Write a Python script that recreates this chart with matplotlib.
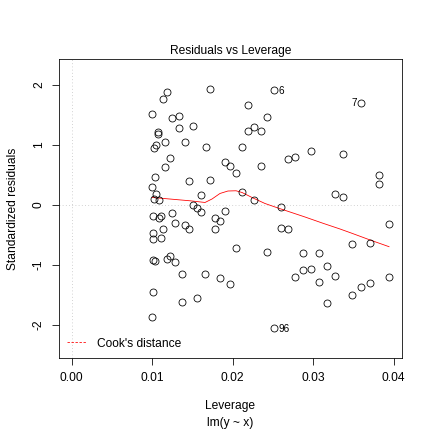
import numpy as np
import matplotlib
matplotlib.use("Agg")
import matplotlib.pyplot as plt

# leverage (hat values) and standardized residuals
leverage = [
    0.01001, 0.01130, 0.01188, 0.01068, 0.01068, 0.01047, 0.01022, 0.01159, 0.01217, 0.01155,
    0.01035, 0.01001, 0.01047, 0.01016, 0.01084, 0.01014, 0.01109, 0.01081, 0.01250, 0.01287,
    0.01407, 0.01457, 0.01134, 0.01006, 0.01006, 0.01106, 0.01006, 0.01039, 0.01184, 0.01225,
    0.01287, 0.01366, 0.01014, 0.01366, 0.01553, 0.01001, 0.01250, 0.01329, 0.01329, 0.01503,
    0.01411, 0.01665, 0.01718, 0.02190, 0.02426, 0.02190, 0.02268, 0.02348, 0.02116, 0.01908,
    0.01970, 0.02045, 0.02348, 0.02687, 0.02778, 0.01453, 0.01718, 0.01606, 0.02116, 0.02265,
    0.01503, 0.01553, 0.01606, 0.02596, 0.01908, 0.01780, 0.01839, 0.01776, 0.02596, 0.02683,
    0.02045, 0.02426, 0.01660, 0.01839, 0.01970, 0.02513, 0.02513, 0.03594, 0.02969, 0.03374,
    0.03821, 0.03821, 0.03271, 0.03374, 0.03942, 0.03482, 0.03706, 0.02873, 0.03068, 0.02778,
    0.02873, 0.02969, 0.03168, 0.03267, 0.03068, 0.03168, 0.03482, 0.03594, 0.03706, 0.03942,
]
std_resid = [
    1.517, 1.767, 1.873, 1.207, 1.178, 1.000, 0.950, 1.050, 0.773, 0.623,
    0.462, 0.300, 0.173, 0.087, 0.078, -0.183, -0.183, -0.217, -0.143, -0.310,
    -0.343, -0.410, -0.405, -0.472, -0.567, -0.560, -0.922, -0.933, -0.905, -0.850,
    -0.950, -1.155, -1.450, -1.617, -1.550, -1.872, 1.445, 1.483, 1.283, 1.317,
    1.050, 0.962, 1.928, 1.667, 1.462, 1.233, 1.300, 1.233, 0.962, 0.707,
    0.645, 0.523, 0.645, 0.767, 0.790, 0.390, 0.412, 0.167, 0.217, 0.070,
    -0.005, -0.060, -0.130, -0.033, -0.110, -0.230, -0.272, -0.410, -0.393, -0.410,
    -0.717, -0.793, -1.150, -1.222, -1.327, -2.055, 1.907, 1.695, 0.903, 0.850,
    0.495, 0.350, 0.178, 0.123, -0.327, -0.660, -0.633, -0.800, -0.810, -1.205,
    -1.093, -1.077, -1.022, -1.183, -1.293, -1.633, -1.500, -1.372, -1.305, -1.205,
]

# smoother (red line)
smooth_x = [0.01001, 0.01258, 0.01470, 0.01656, 0.01743, 0.01842, 0.01941, 0.02041, 0.02116, 0.02252,
            0.02401, 0.02525, 0.02712, 0.02898, 0.03122, 0.03333, 0.03482, 0.03706, 0.03942]
smooth_y = [0.120, 0.090, 0.065, 0.037, 0.095, 0.187, 0.228, 0.232, 0.203, 0.112,
            0.020, -0.038, -0.122, -0.205, -0.310, -0.405, -0.477, -0.588, -0.700]

# labelled observations
id_labels = ["6", "7", "96"]
id_x = [0.02513, 0.03594, 0.02513]
id_y = [1.907, 1.695, -2.055]

plt.rcParams['font.family'] = ['Liberation Sans', 'DejaVu Sans']
plt.rcParams['font.size'] = 12

fig = plt.figure(figsize=(6, 6), dpi=72)
ax = fig.add_axes([59/432, 1 - 358/432, (402 - 59)/432, (358 - 59)/432])

ax.axvline(0, color='#bebebe', ls=(0, (1, 3)), lw=0.8, zorder=1)
ax.axhline(0, color='#bebebe', ls=(0, (1, 3)), lw=0.8, zorder=1)

ax.plot(leverage, std_resid, 'o', mfc='none', mec='black', ms=7, mew=0.8, zorder=3)
ax.plot(smooth_x, smooth_y, color='red', lw=0.8, zorder=2)

xlo, xhi = -0.00158, 0.04103
for lab, xx, yy in zip(id_labels, id_x, id_y):
    if xx > 0.03:
        ax.annotate(lab, (xx, yy), xytext=(-4, 0), textcoords='offset points',
                    ha='right', va='center', fontsize=10)
    else:
        ax.annotate(lab, (xx, yy), xytext=(4, -1), textcoords='offset points',
                    ha='left', va='center', fontsize=10)

# legend for Cook's distance
ax.plot([], [], color='red', ls=(0, (3, 2)), lw=0.8, label="Cook's distance")
ax.legend(loc='lower left', frameon=False, handlelength=1.6, handletextpad=0.9,
          borderaxespad=0.3, fontsize=12)

ax.set_xlim(xlo, xhi)
ax.set_ylim(-2.555, 2.428)
ax.set_xticks([0.0, 0.01, 0.02, 0.03, 0.04])
ax.set_xticklabels(['0.00', '0.01', '0.02', '0.03', '0.04'])
ax.set_yticks([-2, -1, 0, 1, 2])
ax.set_yticklabels(['-2', '-1', '0', '1', '2'], rotation=90, va='center')
ax.tick_params(direction='out', length=7, width=0.8, pad=7)
for s in ax.spines.values():
    s.set_linewidth(0.8)

ax.set_title('Residuals vs Leverage', fontsize=12, pad=5)
ax.set_xlabel('Leverage', labelpad=16)
ax.set_ylabel('Standardized residuals', labelpad=14)
fig.text(230.5/432, 1 - 423/432, 'lm(y ~ x)', ha='center', va='center', fontsize=12)

fig.savefig('out.png', dpi=72)
